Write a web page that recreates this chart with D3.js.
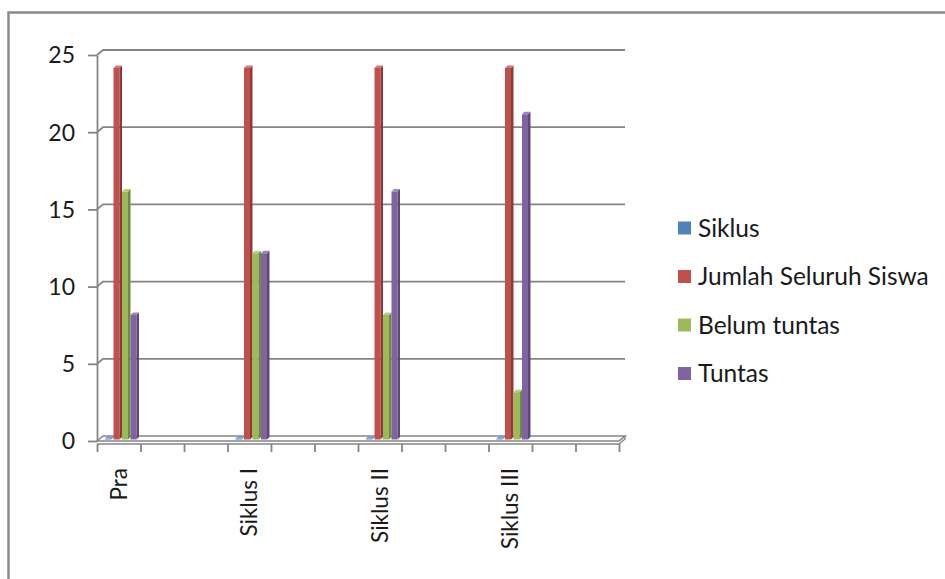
<!DOCTYPE html>
<html>
<head>
<meta charset="utf-8">
<script src="https://cdn.jsdelivr.net/npm/d3@7"></script>
<style>
  body { margin: 0; background: #fff; }
  svg text { font-family: Lato, 'Open Sans', sans-serif; fill: #1a1a1a; }
</style>
</head>
<body>
<div class="container"></div>
<script>
  // 12 category slots, only 4 carry data
  const categories = ['Pra', '', '', 'Siklus I', '', '', 'Siklus II', '', '', 'Siklus III', '', ''];
  const seriesNames = ['Siklus', 'Jumlah Seluruh Siswa', 'Belum tuntas', 'Tuntas'];
  const siklus = [0, null, null, 0, null, null, 0, null, null, 0, null, null];
  const jumlahSiswa = [24, null, null, 24, null, null, 24, null, null, 24, null, null];
  const belumTuntas = [16, null, null, 12, null, null, 8, null, null, 3, null, null];
  const tuntas = [8, null, null, 12, null, null, 16, null, null, 21, null, null];
  const yTicks = [0, 5, 10, 15, 20, 25];

  const seriesValues = [siklus, jumlahSiswa, belumTuntas, tuntas];
  const colors = ['#4F81BD', '#C0504D', '#9BBB59', '#8064A2'];
  const sideColors = ['#3A6190', '#8F3A38', '#728A40', '#5D4979'];
  const topColors = ['#7A9FD0', '#D27876', '#B5CF80', '#9C85BA'];

  const width = 945;
  const height = 579;
  const fx0 = 97, fx1 = 619, fy = 441;   // front edge of the floor
  const dx = 6, dy = -5;                   // depth of the 3d box
  const gridColor = '#858585';

  const svg = d3.select('.container')
    .append('svg')
    .attr('width', width)
    .attr('height', height);

  // outer frame
  svg.append('rect')
    .attr('x', 8.5).attr('y', 12.5)
    .attr('width', 960).attr('height', 600)
    .attr('fill', '#fff')
    .attr('stroke', '#8a8a8a')
    .attr('stroke-width', 2.5);

  const y = d3.scaleLinear().domain([0, 25]).range([fy + dy, 50]);
  const x = d3.scaleBand().domain(d3.range(categories.length)).range([fx0, fx1]);
  const xEdges = d3.scaleLinear().domain([0, categories.length]).range([fx0, fx1]);
  const inner = d3.scaleBand().domain(seriesNames).range([5, 39]);

  // gridlines on the back wall, with the little kink to the front axis
  svg.append('g')
    .selectAll('path')
    .data(yTicks.filter(d => d > 0))
    .enter()
    .append('path')
    .attr('d', d => `M${fx0},${y(d) - dy}L${fx0 + dx},${y(d)}L${fx1 + dx},${y(d)}`)
    .attr('fill', 'none')
    .attr('stroke', gridColor)
    .attr('stroke-width', 1.8);

  // floor slab
  svg.append('path')
    .attr('d', `M${fx0},${fy}L${fx0 + dx},${fy + dy}L${fx1 + dx},${fy + dy}L${fx1},${fy}Z`)
    .attr('fill', '#fff')
    .attr('stroke', gridColor)
    .attr('stroke-width', 1.6);
  svg.append('path')
    .attr('d', `M${fx0},${fy + 3}L${fx1},${fy + 3}L${fx1 + dx},${fy + dy + 3}L${fx1 + dx},${fy + dy}`)
    .attr('fill', 'none')
    .attr('stroke', gridColor)
    .attr('stroke-width', 1.4);

  // y axis on the front plane
  const yFront = y.copy().range(y.range().map(v => v - dy));
  svg.append('g')
    .attr('transform', `translate(${fx0},0)`)
    .call(d3.axisLeft(yFront).tickValues(yTicks).tickSize(9).tickPadding(13).tickSizeOuter(0))
    .call(g => g.select('.domain').attr('stroke', gridColor).attr('stroke-width', 1.8))
    .call(g => g.selectAll('.tick line').attr('stroke', gridColor).attr('stroke-width', 1.8))
    .call(g => g.selectAll('.tick text').style('font-size', '23px').attr('dy', '0.34em'));

  // x axis ticks between slots
  svg.append('g')
    .attr('transform', `translate(0,${fy + 3})`)
    .call(d3.axisBottom(xEdges).tickValues(d3.range(categories.length + 1)).tickFormat('').tickSize(8).tickSizeOuter(0))
    .call(g => g.select('.domain').remove())
    .call(g => g.selectAll('.tick line').attr('stroke', gridColor).attr('stroke-width', 1.8));

  // category labels, rotated
  svg.append('g')
    .selectAll('text')
    .data(categories.map((c, i) => ({ c, i })).filter(d => d.c))
    .enter()
    .append('text')
    .attr('transform', d => `translate(${x(d.i) + x.bandwidth() / 2 + 8},${fy + 27}) rotate(-90)`)
    .attr('text-anchor', 'end')
    .style('font-size', '22.5px')
    .text(d => d.c);

  // bars with a small 3d side and cap
  const bars = [];
  seriesValues.forEach((vals, s) => {
    vals.forEach((v, i) => {
      if (v !== null) bars.push({ s, i, v });
    });
  });

  const depth = 2.5;
  const barGroup = svg.append('g');
  bars.forEach(d => {
    const bx = x(d.i) + inner(seriesNames[d.s]) + dx / 2;
    const bw = inner.bandwidth() - depth;
    const base = fy + dy / 2 + 1;
    const top = Math.min(y(d.v) - dy / 2, base - 1);
    barGroup.append('rect')
      .attr('x', bx).attr('y', top)
      .attr('width', bw).attr('height', base - top)
      .attr('fill', colors[d.s]);
    barGroup.append('path')
      .attr('d', `M${bx + bw},${top}L${bx + bw + depth},${top - depth}L${bx + bw + depth},${base - depth}L${bx + bw},${base}Z`)
      .attr('fill', sideColors[d.s]);
    barGroup.append('path')
      .attr('d', `M${bx},${top}L${bx + depth},${top - depth}L${bx + bw + depth},${top - depth}L${bx + bw},${top}Z`)
      .attr('fill', topColors[d.s]);
  });

  // legend
  const legend = svg.append('g')
    .attr('id', 'legend')
    .attr('transform', 'translate(678,228)');

  const legendItems = legend.selectAll('g')
    .data(seriesNames)
    .enter()
    .append('g')
    .attr('transform', (d, i) => `translate(0,${i * 48.5})`);

  legendItems.append('rect')
    .attr('x', 0).attr('y', -6.5)
    .attr('width', 13).attr('height', 13)
    .attr('fill', (d, i) => colors[i]);

  legendItems.append('text')
    .attr('x', 20)
    .attr('y', 8.5)
    .style('font-size', '24.5px')
    .text(d => d);
</script>
</body>
</html>
